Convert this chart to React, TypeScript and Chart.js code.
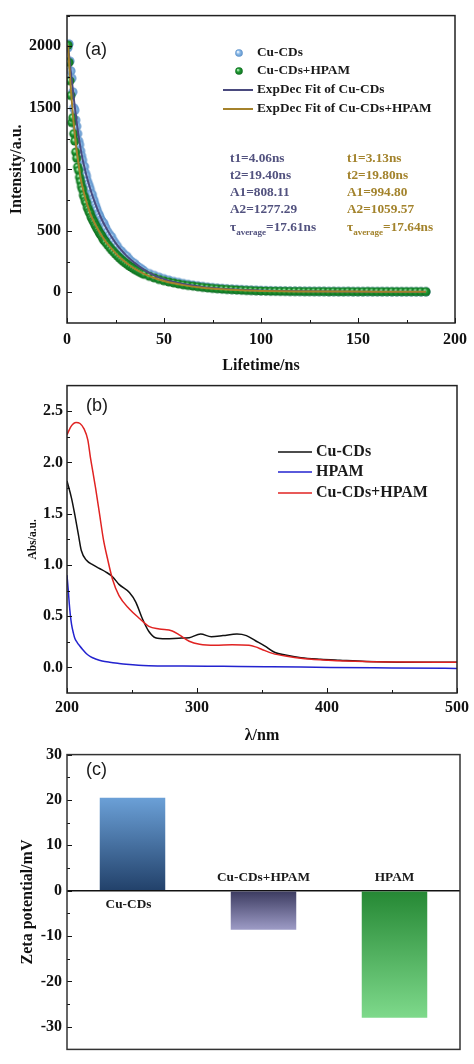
import React, { useEffect, useRef } from "react";
import { Chart, registerables } from "chart.js";
Chart.register(...registerables);

const SERIF = "'Liberation Serif', 'Times New Roman', serif";
const SANS = "'Liberation Sans', Arial, sans-serif";

// ---------- Panel (a): fluorescence decay ----------
const decayTimes = [
  0.5, 1, 1.5, 2, 2.5, 3, 3.5, 4, 4.5, 5, 5.5, 6, 6.5, 7, 7.5, 8, 8.5, 9, 9.5, 10,
  10.5, 11, 11.5, 12, 12.5, 13, 13.5, 14, 14.5, 15, 15.5, 16, 16.5, 17, 17.5, 18, 18.5, 19, 19.5, 20,
  21, 22, 23, 24, 25, 26, 27, 28, 29, 30, 31, 32, 33, 34, 35, 36, 37, 38, 39, 40,
  42.5, 45, 47.5, 50, 52.5, 55, 57.5, 60, 62.5, 65, 67.5, 70, 72.5, 75, 77.5, 80, 82.5, 85, 87.5, 90, 92.5, 95, 97.5, 100,
  102.5, 105, 107.5, 110, 112.5, 115, 117.5, 120, 122.5, 125, 127.5, 130, 132.5, 135, 137.5, 140, 142.5, 145, 147.5, 150,
  152.5, 155, 157.5, 160, 162.5, 165, 167.5, 170, 172.5, 175, 177.5, 180, 182.5, 185,
];
const cuCDsDecay = [
  1990, 2020, 1880, 1800, 1740, 1630, 1500, 1480, 1400, 1350, 1290, 1230, 1200, 1150, 1110, 1075, 1030, 1020, 970, 945,
  905, 880, 860, 835, 800, 795, 760, 740, 712, 690, 668, 640, 632, 612, 590, 580, 562, 560, 534, 520,
  492, 468, 450, 418, 395, 372, 345, 335, 315, 298, 290, 268, 252, 240, 232, 214, 202, 193, 182, 168,
  152, 137, 123, 110, 99, 88, 80, 71, 64, 58, 52, 47, 42, 38, 34, 31, 28, 25, 23, 21, 19, 17, 16, 14,
  13, 12, 11, 11, 10, 9, 9, 8, 8, 8, 7, 7, 7, 6, 6, 6, 6, 6, 5, 5,
  5, 5, 5, 5, 5, 5, 4, 4, 4, 4, 4, 4, 4, 4,
];
const cuHpamDecay = [
  2010, 1870, 1720, 1600, 1380, 1420, 1290, 1230, 1140, 1090, 1020, 990, 935, 900, 860, 835, 790, 770, 740, 725,
  690, 675, 652, 640, 612, 598, 580, 568, 548, 535, 518, 508, 490, 476, 468, 455, 438, 425, 418, 406,
  385, 366, 346, 330, 312, 296, 280, 266, 252, 240, 228, 216, 206, 196, 186, 178, 169, 161, 153, 146,
  130, 117, 104, 94, 84, 76, 68, 61, 55, 50, 45, 40, 36, 32, 29, 26, 23, 21, 19, 17, 15, 14, 12, 11,
  10, 9, 9, 8, 8, 7, 7, 7, 6, 6, 6, 6, 6, 5, 6, 5, 5, 6, 5, 5,
  5, 6, 5, 5, 5, 5, 5, 5, 5, 5, 5, 5, 5, 5,
];
const fitTimes = [0.5, 1, 1.5, 2, 3, 4, 5, 6, 7, 8, 9, 10, 12, 14, 16, 18, 20, 22, 25, 28, 31, 35, 40, 45, 50, 55, 60, 70, 80, 90, 100, 110, 120, 140, 160, 185];
const cuCDsFit = [2010, 1940, 1860, 1790, 1650, 1510, 1380, 1270, 1170, 1085, 1015, 950, 840, 745, 662, 590, 528, 473, 402, 342, 292, 237, 180, 138, 107, 84, 67, 43, 29, 20, 14, 10, 8, 6, 5, 4];
const cuHpamFit = [2010, 1880, 1760, 1650, 1450, 1290, 1150, 1040, 930, 855, 790, 735, 640, 570, 510, 457, 410, 372, 318, 272, 234, 190, 148, 116, 92, 73, 58, 37, 24, 16, 11, 8, 7, 6, 5, 5];
const decayXTicks = [0, 50, 100, 150, 200];
const decayXMinor = [25, 75, 125, 175];
const decayYTicks = [0, 500, 1000, 1500, 2000];
const decayYMinor = [250, 750, 1250, 1750, 2250];
const fitParamsCu = ["t1=4.06ns", "t2=19.40ns", "A1=808.11", "A2=1277.29"];
const fitParamsHpam = ["t1=3.13ns", "t2=19.80ns", "A1=994.80", "A2=1059.57"];
const tauCu = "=17.61ns";
const tauHpam = "=17.64ns";

// ---------- Panel (b): UV-vis absorbance ----------
const absBlackX = [200, 203.5, 206, 208.7, 211, 215, 220, 225, 230, 235, 240, 248, 253, 258, 263, 268, 276, 286, 294, 302.8, 311, 320, 330.7, 338, 345, 352, 360, 368, 380, 395, 410, 430, 460, 500];
const absBlack = [1.82, 1.65, 1.49, 1.3, 1.14, 1.045, 1.0, 0.965, 0.93, 0.885, 0.81, 0.73, 0.635, 0.475, 0.35, 0.29, 0.28, 0.285, 0.29, 0.325, 0.3, 0.31, 0.325, 0.31, 0.26, 0.21, 0.145, 0.12, 0.095, 0.08, 0.07, 0.058, 0.05, 0.05];
const absBlueX = [200, 201, 201.7, 202.5, 203.5, 205, 206, 208, 210, 212, 215, 218, 222.6, 227, 232.8, 240, 245.5, 255, 263, 275, 289, 320, 352.6, 380, 403, 450, 500];
const absBlue = [0.9, 0.75, 0.63, 0.52, 0.42, 0.33, 0.285, 0.24, 0.206, 0.175, 0.133, 0.105, 0.08, 0.063, 0.05, 0.038, 0.03, 0.02, 0.016, 0.014, 0.013, 0.01, 0.007, 0.004, 0.0, -0.005, -0.01];
const absRedX = [200, 203, 207, 210, 213, 216, 218, 220, 222, 225, 228, 231, 235, 240, 248, 256, 263, 271, 281, 286, 294, 302, 314, 327, 340, 345, 350, 358, 368, 383, 401, 429, 455, 500];
const absRed = [2.27, 2.35, 2.39, 2.38, 2.33, 2.22, 2.05, 1.9, 1.75, 1.5, 1.25, 1.07, 0.86, 0.7, 0.57, 0.475, 0.4, 0.375, 0.355, 0.32, 0.255, 0.225, 0.215, 0.22, 0.215, 0.2, 0.175, 0.137, 0.11, 0.085, 0.07, 0.057, 0.052, 0.05];
const absXTicks = [200, 300, 400, 500];
const absXMinor = [250, 350, 450];
const absYTicks = [0, 0.5, 1.0, 1.5, 2.0, 2.5];
const absYMinor = [0.25, 0.75, 1.25, 1.75, 2.25];

// ---------- Panel (c): zeta potential ----------
const zetaCategories = ["Cu-CDs", "Cu-CDs+HPAM", "HPAM"];
const zetaValues = [20.5, -8.6, -28];
const zetaYTicks = [-30, -20, -10, 0, 10, 20, 30];
const zetaYMinor = [-25, -15, -5, 5, 15, 25];

const barGradients = [
  ["#6ba0d7", "#22416a"],
  ["#3b3a5f", "#9d9bc6"],
  ["#258834", "#7ed98b"],
];

function makeBall(fill: string, dark: string, light: string, r: number) {
  const c = document.createElement("canvas");
  const s = Math.ceil(r * 2 + 2);
  c.width = s;
  c.height = s;
  const g = c.getContext("2d")!;
  const cx = s / 2, cy = s / 2;
  const grad = g.createRadialGradient(cx - r * 0.3, cy - r * 0.3, r * 0.1, cx, cy, r);
  grad.addColorStop(0, light);
  grad.addColorStop(0.4, fill);
  grad.addColorStop(1, dark);
  g.fillStyle = grad;
  g.beginPath();
  g.arc(cx, cy, r, 0, Math.PI * 2);
  g.fill();
  return c;
}

function frameTicks(o: { xMajor?: number[]; xMinor?: number[]; yMajor?: number[]; yMinor?: number[]; color?: string }) {
  return {
    id: "frameTicks",
    afterDatasetsDraw(chart: any) {
      const { ctx, chartArea: a, scales } = chart;
      ctx.save();
      ctx.strokeStyle = "#111";
      ctx.lineWidth = 1;
      ctx.beginPath();
      const xs = scales.x, ys = scales.y;
      const xt = (vals: number[] | undefined, len: number) =>
        (vals || []).forEach((v) => {
          const p = Math.round(xs.getPixelForValue(v)) + 0.5;
          ctx.moveTo(p, a.bottom);
          ctx.lineTo(p, a.bottom - len);
        });
      const yt = (vals: number[] | undefined, len: number) =>
        (vals || []).forEach((v) => {
          const p = Math.round(ys.getPixelForValue(v)) + 0.5;
          ctx.moveTo(a.left, p);
          ctx.lineTo(a.left + len, p);
        });
      xt(o.xMajor, 5);
      xt(o.xMinor, 3);
      yt(o.yMajor, 5);
      yt(o.yMinor, 3);
      ctx.stroke();
      ctx.strokeStyle = o.color || "#222";
      ctx.lineWidth = 1.5;
      ctx.strokeRect(a.left, a.top, a.right - a.left, a.bottom - a.top);
      ctx.restore();
    },
  };
}

function txt(ctx: CanvasRenderingContext2D, s: string, x: number, y: number, font: string, color: string, align: CanvasTextAlign = "left") {
  ctx.font = font;
  ctx.fillStyle = color;
  ctx.textAlign = align;
  ctx.textBaseline = "middle";
  ctx.fillText(s, x, y);
}

const tickFont = { family: SERIF, weight: "bold" as const, size: 16 };
const titleFont = { family: SERIF, weight: "bold" as const, size: 16 };
const plain = (v: any) => String(v);

function buildA(canvas: HTMLCanvasElement) {
  const blueBall = makeBall("#8dbbe8", "#5a8fc8", "#f2f8ff", 4.6);
  const greenBall = makeBall("#1f9a33", "#0e6b1e", "#b8efbe", 4.6);
  const legBlue = makeBall("#8dbbe8", "#5a8fc8", "#f2f8ff", 3.8);
  const legGreen = makeBall("#1f9a33", "#0e6b1e", "#b8efbe", 3.8);
  const textPlugin = {
    id: "textA",
    afterDraw(chart: any) {
      const ctx = chart.ctx as CanvasRenderingContext2D;
      ctx.save();
      txt(ctx, "(a)", 85, 50, `18px ${SANS}`, "#1a1a1a");
      const ds = chart.data.datasets;
      const rows = [53, 71, 90, 109];
      ds.forEach((d: any, i: number) => {
        const y = rows[i];
        if (i < 2) {
          const img = i === 0 ? legBlue : legGreen;
          ctx.drawImage(img, 239 - img.width / 2, y - img.height / 2);
        } else {
          ctx.strokeStyle = d.borderColor;
          ctx.lineWidth = 2;
          ctx.beginPath();
          ctx.moveTo(223, y);
          ctx.lineTo(253, y);
          ctx.stroke();
        }
        txt(ctx, d.label, 257, y, `bold 13.3px ${SERIF}`, "#1a1a1a");
      });
      const navy = "#52527f", gold = "#a3832c";
      const pr = [159, 176, 193, 210];
      fitParamsCu.forEach((s, i) => txt(ctx, s, 230, pr[i], `bold 13.3px ${SERIF}`, navy));
      fitParamsHpam.forEach((s, i) => txt(ctx, s, 347, pr[i], `bold 13.3px ${SERIF}`, gold));
      const tau = (x: number, val: string, color: string) => {
        txt(ctx, "τ", x, 228, `bold 13.3px ${SERIF}`, color);
        const w1 = ctx.measureText("τ").width;
        txt(ctx, "average", x + w1, 233, `bold 9px ${SERIF}`, color);
        const w2 = ctx.measureText("average").width;
        txt(ctx, val, x + w1 + w2, 228, `bold 13.3px ${SERIF}`, color);
      };
      tau(230, tauCu, navy);
      tau(347, tauHpam, gold);
      ctx.restore();
    },
  };
  return new Chart(canvas, {
    type: "scatter",
    data: {
      datasets: [
        { label: "Cu-CDs", data: decayTimes.map((t, i) => ({ x: t, y: cuCDsDecay[i] })), pointStyle: blueBall as any, pointRadius: 4.6, showLine: false, order: 4 },
        { label: "Cu-CDs+HPAM", data: decayTimes.map((t, i) => ({ x: t, y: cuHpamDecay[i] })), pointStyle: greenBall as any, pointRadius: 4.6, showLine: false, order: 3 },
        { label: "ExpDec Fit of Cu-CDs", data: fitTimes.map((t, i) => ({ x: t, y: cuCDsFit[i] })), showLine: true, pointRadius: 0, borderColor: "#4a4a7e", borderWidth: 2, cubicInterpolationMode: "monotone", order: 2 },
        { label: "ExpDec Fit of Cu-CDs+HPAM", data: fitTimes.map((t, i) => ({ x: t, y: cuHpamFit[i] })), showLine: true, pointRadius: 0, borderColor: "#a5822b", borderWidth: 2, cubicInterpolationMode: "monotone", order: 1 },
      ] as any,
    },
    options: {
      animation: false,
      responsive: false,
      events: [],
      layout: { padding: { top: 7, right: 14, left: 0, bottom: 0 } },
      plugins: { legend: { display: false }, tooltip: { enabled: false } },
      scales: {
        x: {
          type: "linear", min: 0, max: 200,
          afterFit: (s: any) => { s.height = 52; },
          afterBuildTicks: (s: any) => { s.ticks = decayXTicks.map((v) => ({ value: v })); },
          grid: { display: false, drawTicks: false },
          border: { display: false },
          ticks: { font: tickFont, color: "#111", padding: 7, callback: plain },
          title: { display: true, text: "Lifetime/ns", font: titleFont, color: "#111", padding: { top: 0, bottom: 0 } },
        },
        y: {
          type: "linear", min: -250, max: 2250,
          afterFit: (s: any) => { s.width = 67; },
          afterBuildTicks: (s: any) => { s.ticks = decayYTicks.map((v) => ({ value: v })); },
          grid: { display: false, drawTicks: false },
          border: { display: false },
          ticks: { font: tickFont, color: "#111", padding: 6, callback: plain },
          title: { display: true, text: "Intensity/a.u.", font: titleFont, color: "#111", padding: { top: 7, bottom: 0 } },
        },
      },
    },
    plugins: [frameTicks({ xMajor: decayXTicks, xMinor: decayXMinor, yMajor: decayYTicks, yMinor: decayYMinor }), textPlugin],
  });
}

function buildB(canvas: HTMLCanvasElement) {
  const textPlugin = {
    id: "textB",
    afterDraw(chart: any) {
      const ctx = chart.ctx as CanvasRenderingContext2D;
      ctx.save();
      txt(ctx, "(b)", 86, 406 - 372, `18px ${SANS}`, "#1a1a1a");
      const rows = [452, 472, 493].map((v) => v - 372);
      chart.data.datasets.forEach((d: any, i: number) => {
        const y = rows[i];
        ctx.strokeStyle = d.borderColor;
        ctx.lineWidth = 1.5;
        ctx.beginPath();
        ctx.moveTo(278, y);
        ctx.lineTo(312, y);
        ctx.stroke();
        txt(ctx, d.label, 316, y, `bold 16px ${SERIF}`, "#1a1a1a");
      });
      ctx.restore();
    },
  };
  const line = (label: string, xs: number[], ys: number[], color: string, order: number) => ({
    label, data: xs.map((x, i) => ({ x, y: ys[i] })), showLine: true, pointRadius: 0,
    borderColor: color, borderWidth: 1.5, cubicInterpolationMode: "monotone", order,
  });
  return new Chart(canvas, {
    type: "scatter",
    data: {
      datasets: [
        line("Cu-CDs", absBlackX, absBlack, "#111111", 1),
        line("HPAM", absBlueX, absBlue, "#2323cf", 2),
        line("Cu-CDs+HPAM", absRedX, absRed, "#e02322", 0),
      ] as any,
    },
    options: {
      animation: false,
      responsive: false,
      events: [],
      layout: { padding: { top: 5, right: 14, left: 0, bottom: 0 } },
      plugins: { legend: { display: false }, tooltip: { enabled: false } },
      scales: {
        x: {
          type: "linear", min: 200, max: 500,
          afterFit: (s: any) => { s.height = 52; },
          afterBuildTicks: (s: any) => { s.ticks = absXTicks.map((v) => ({ value: v })); },
          grid: { display: false, drawTicks: false },
          border: { display: false },
          ticks: { font: tickFont, color: "#111", padding: 5, callback: plain },
          title: { display: true, text: "λ/nm", font: titleFont, color: "#111", padding: { top: 0, bottom: 0 } },
        },
        y: {
          type: "linear", min: -0.25, max: 2.75,
          afterFit: (s: any) => { s.width = 67; },
          afterBuildTicks: (s: any) => { s.ticks = absYTicks.map((v) => ({ value: v })); },
          grid: { display: false, drawTicks: false },
          border: { display: false },
          ticks: { font: tickFont, color: "#111", padding: 4, callback: (v: any) => Number(v).toFixed(1) },
          title: { display: true, text: "Abs/a.u.", font: { family: SERIF, weight: "bold", size: 11.5 }, color: "#111", padding: { top: 26, bottom: 0 } },
        },
      },
    },
    plugins: [frameTicks({ xMajor: absXTicks, xMinor: absXMinor, yMajor: absYTicks, yMinor: absYMinor }), textPlugin],
  });
}

function buildC(canvas: HTMLCanvasElement) {
  const top = 740;
  const textPlugin = {
    id: "textC",
    afterDatasetsDraw(chart: any) {
      const ctx = chart.ctx as CanvasRenderingContext2D;
      ctx.save();
      txt(ctx, "(c)", 86, 770 - top, `18px ${SANS}`, "#1a1a1a");
      const y0 = chart.scales.y.getPixelForValue(0);
      const meta = chart.getDatasetMeta(0);
      meta.data.forEach((bar: any, i: number) => {
        const v = zetaValues[i];
        const y = v > 0 ? y0 + 14 : y0 - 13;
        txt(ctx, zetaCategories[i], bar.x - (v > 0 ? 4 : 0), y, `bold 13.3px ${SERIF}`, "#1a1a1a", "center");
      });
      ctx.restore();
    },
  };
  return new Chart(canvas, {
    type: "bar",
    data: {
      labels: zetaCategories,
      datasets: [
        {
          data: zetaValues,
          barPercentage: 0.5,
          categoryPercentage: 1,
          borderWidth: 0,
          backgroundColor: (c: any) => {
            const chart = c.chart;
            const ys = chart.scales?.y;
            if (!chart.chartArea || !ys) return barGradients[c.dataIndex][0];
            const v = zetaValues[c.dataIndex];
            const yTop = ys.getPixelForValue(v > 0 ? v : 0);
            const yBot = ys.getPixelForValue(v > 0 ? 0 : v);
            const g = chart.ctx.createLinearGradient(0, yTop, 0, yBot);
            g.addColorStop(0, barGradients[c.dataIndex][0]);
            g.addColorStop(1, barGradients[c.dataIndex][1]);
            return g;
          },
        },
      ] as any,
    },
    options: {
      animation: false,
      responsive: false,
      events: [],
      layout: { padding: { top: 8, right: 14, left: 0, bottom: 1 } },
      plugins: { legend: { display: false }, tooltip: { enabled: false } },
      scales: {
        x: { display: false },
        y: {
          type: "linear", min: -35, max: 30,
          afterFit: (s: any) => { s.width = 67; },
          afterBuildTicks: (s: any) => { s.ticks = zetaYTicks.map((v) => ({ value: v })); },
          grid: {
            drawTicks: false,
            color: (c: any) => (c.tick && c.tick.value === 0 ? "#111" : "rgba(0,0,0,0)"),
            lineWidth: 1.5,
          },
          border: { display: false },
          ticks: { font: tickFont, color: "#111", padding: 5, callback: plain },
          title: { display: true, text: "Zeta potential/mV", font: titleFont, color: "#111", padding: { top: 18, bottom: 0 } },
        },
      },
    },
    plugins: [frameTicks({ yMajor: zetaYTicks, yMinor: zetaYMinor, color: "#333" }), textPlugin],
  });
}

export default function App() {
  const refA = useRef<HTMLCanvasElement>(null);
  const refB = useRef<HTMLCanvasElement>(null);
  const refC = useRef<HTMLCanvasElement>(null);
  useEffect(() => {
    const charts = [buildA(refA.current!), buildB(refB.current!), buildC(refC.current!)];
    return () => charts.forEach((c) => c.destroy());
  }, []);
  const cs = (top: number): React.CSSProperties => ({ position: "absolute", left: 0, top, display: "block" });
  return (
    <div style={{ position: "absolute", left: 0, top: 0, width: 474, height: 1064, background: "#fff", overflow: "hidden" }}>
      <canvas ref={refA} width={474} height={375} style={cs(0)} />
      <canvas ref={refB} width={474} height={373} style={cs(372)} />
      <canvas ref={refC} width={474} height={324} style={cs(740)} />
    </div>
  );
}
